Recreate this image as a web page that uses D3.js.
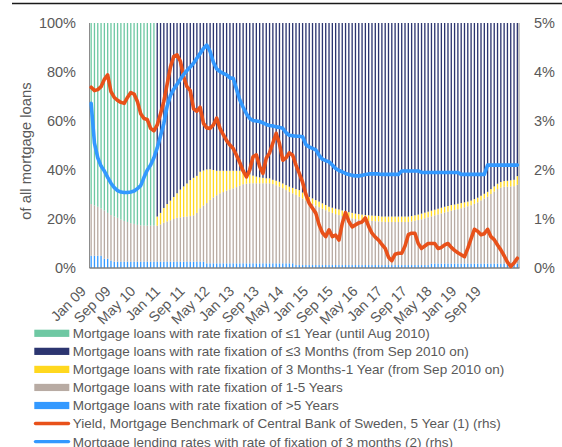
<!DOCTYPE html>
<html><head><meta charset="utf-8">
<script src="https://cdn.jsdelivr.net/npm/d3@7"></script>
<style>
html,body{margin:0;padding:0;background:#fff;}
svg{display:block;font-family:"Liberation Sans",Arial,sans-serif;}
</style></head>
<body><svg id="c" width="562" height="447"></svg>
<script>
// ---- data ----
const tickLabels = ["Jan 09","Sep 09","May 10","Jan 11","Sep 11","May 12","Jan 13","Sep 13","May 14","Jan 15","Sep 15","May 16","Jan 17","Sep 17","May 18","Jan 19","Sep 19"];
const leftTicks = [0,20,40,60,80,100];
const rightTicks = [0,1,2,3,4,5];

// >5 Years (Jan 2009 - Oct 2019)
const gt5 = [5.0,5.0,5.0,5.0,3.8,3.8,3.0,2.6,2.6,2.6, 2.6,2.6,2.6,2.6,2.6,2.6,2.6,2.6,2.6,2.6,
 2.6,2.6,2.6,2.6,2.6,2.6,2.6,2.6,2.6,2.6, 2.6,2.6,2.6,2.6,2.6,1.9,1.9,1.9,1.9,1.9,
 1.9,1.9,1.9,1.9,1.9,1.9,1.9,1.9,1.9,1.9, 1.9,1.9,1.9,1.9,1.9,1.9,1.9,1.9,1.9,1.9,
 1.9,1.9,1.2,1.2,1.2,1.2,1.2,1.2,1.2,1.2, 1.2,1.2,1.2,1.2,1.2,1.2,1.2,1.2,1.2,1.2,
 1.2,1.2,1.2,1.2,1.2,1.2,1.2,1.2,1.2,1.2, 1.2,1.2,1.2,1.2,1.2,1.2,1.2,1.2,1.2,1.2,
 1.2,1.2,1.2,1.8,1.8,1.8,1.8,1.8,1.8,1.8, 1.8,1.8,1.8,1.8,1.8,1.8,1.8,1.8,1.8,1.8,
 1.8,1.8,1.8,1.8,1.8,1.8,1.8,1.8,1.8,1.8];
// 1-5 Years
const y1to5 = [21.1,20.5,20.0,19.3,19.7,18.7,18.6,18.4,17.9,17.2, 16.6,16.2,15.7,15.4,15.0,14.8,14.7,14.7,14.7,14.7,
 14.7,15.2,15.9,16.4,16.9,17.4,17.9,18.1,18.3,18.4, 18.6,18.9,19.9,21.8,22.9,24.6,25.9,26.9,27.8,28.6,
 29.1,29.7,30.2,30.6,31.1,31.7,32.3,32.5,32.7,32.7, 32.7,32.7,32.7,32.7,32.7,32.4,31.9,31.3,30.7,29.9,
 29.2,28.6,28.6,27.9,27.2,26.4,25.7,25.0,24.3,23.6, 23.0,22.4,21.8,21.3,20.8,20.4,20.0,19.7,19.4,19.1,
 18.8,18.6,18.4,18.2,18.1,18.0,17.9,17.8,17.7,17.6, 17.6,17.6,17.6,17.6,17.6,17.6,17.6,17.8,18.1,18.4,
 18.7,19.1,19.5,19.3,19.7,20.1,20.5,20.9,21.2,21.6, 21.9,22.2,22.6,23.0,23.4,23.8,24.4,25.0,25.8,26.6,
 27.3,28.4,29.4,30.4,31.0,31.4,31.4,31.5,31.6,32.2];
// <=1 Year (Jan 2009 - Aug 2010)
const le1y = [73.9,74.5,75.0,75.7,76.5,77.5,78.4,79.0,79.5,80.2, 80.8,81.2,81.7,82.0,82.4,82.6,82.7,82.7,82.7,82.7];
// 3 Months - 1 Year (Sep 2010 - Oct 2019)
const m3to1y = [3.7,4.7,6.0,7.1,8.0,9.0,10.0,11.3,12.4,13.5, 14.7,15.3,15.1,14.9,14.3,13.7,12.5,11.2,10.0,9.2,
 8.7,8.1,7.6,7.2,6.7,6.1,5.5,4.2,3.6,3.1, 2.7,2.4,2.2,2.0,2.0,1.7,1.8,2.0,1.9,2.0,
 2.1,2.2,2.4,2.7,2.4,2.2,2.1,2.2,2.2,2.3, 2.2,2.1,2.0,2.1,2.2,2.3,2.3,2.2,2.2,2.2,
 2.2,2.2,2.2,2.2,2.2,2.2,2.2,2.2,2.1,2.2, 2.2,2.2,2.2,2.2,2.2,2.2,2.2,2.2,2.2,2.2,
 2.3,2.3,2.3,2.3,2.3,2.3,2.3,2.3,2.3,2.3, 2.2,2.2,2.1,2.0,1.9,1.9,1.9,1.9,1.9,1.9,
 2.0,2.0,2.1,2.2,2.3,2.3,2.4,2.5,2.6,3.5];
// <=3 Months (Sep 2010 - Oct 2019)
const le3m = [79.0,77.5,75.5,73.9,72.5,71.0,69.5,68.0,66.7,65.5, 64.1,63.2,62.4,60.7,60.2,59.8,59.7,60.0,60.3,60.3,
 60.3,60.3,60.3,60.3,60.3,60.3,60.3,61.4,61.8,62.3, 62.7,63.0,63.2,63.4,63.4,64.0,64.4,64.8,65.5,66.2,
 66.8,67.3,67.8,68.2,69.2,70.2,71.0,71.6,72.3,72.9, 73.6,74.3,75.0,75.4,75.8,76.1,76.5,76.9,77.2,77.5,
 77.8,78.0,78.2,78.4,78.5,78.6,78.7,78.8,79.0,79.0, 79.0,79.0,79.0,79.0,79.0,79.0,79.0,78.8,78.5,78.2,
 77.8,77.4,77.0,76.6,76.2,75.8,75.4,75.0,74.7,74.3, 74.1,73.8,73.5,73.2,72.9,72.5,71.9,71.3,70.5,69.7,
 68.9,67.8,66.7,65.6,64.9,64.5,64.4,64.2,64.0,62.5];
// Yield, mortgage benchmark 5Y (rhs, %)
const yield5y = [3.69,3.62,3.64,3.70,3.85,3.94,3.60,3.48,3.42,3.38, 3.36,3.48,3.58,3.55,3.40,3.15,3.05,3.03,2.85,2.80,
 2.92,3.15,3.40,3.75,4.10,4.32,4.35,4.22,3.90,3.70, 3.62,3.25,3.20,3.28,2.95,2.86,2.85,2.92,3.06,2.85,
 2.72,2.60,2.51,2.44,2.30,2.15,1.98,1.86,2.00,2.27, 2.31,2.07,1.93,2.24,2.35,2.55,2.75,2.54,2.20,2.25,
 2.35,2.30,2.10,1.93,1.75,1.50,1.32,1.22,1.12,0.88, 0.72,0.64,0.78,0.64,0.67,0.57,0.91,1.13,0.95,0.84,
 0.88,0.92,0.94,1.02,0.85,0.71,0.63,0.57,0.48,0.40, 0.22,0.15,0.28,0.30,0.30,0.45,0.68,0.71,0.71,0.50,
 0.40,0.45,0.50,0.50,0.50,0.40,0.42,0.47,0.50,0.42, 0.36,0.31,0.27,0.23,0.40,0.60,0.79,0.75,0.68,0.70,
 0.79,0.64,0.58,0.47,0.37,0.25,0.12,0.03,0.10,0.20];
// Mortgage lending rate, 3 months fixation (rhs, %)
const rate3m = [3.36,2.55,2.25,2.08,1.98,1.85,1.73,1.64,1.58,1.55, 1.54,1.54,1.55,1.57,1.62,1.68,1.85,2.00,2.10,2.25,
 2.45,2.70,2.95,3.30,3.52,3.65,3.75,3.85,3.95,4.03, 4.10,4.18,4.28,4.38,4.48,4.55,4.42,4.20,4.06,4.01,
 3.97,3.94,3.88,3.87,3.65,3.43,3.28,3.15,3.05,3.01, 3.00,2.99,2.96,2.93,2.91,2.90,2.88,2.87,2.85,2.76,
 2.71,2.70,2.69,2.69,2.68,2.52,2.47,2.44,2.41,2.30, 2.22,2.19,2.17,2.10,2.03,1.99,1.96,1.93,1.91,1.89,
 1.88,1.88,1.89,1.91,1.92,1.92,1.92,1.92,1.91,1.91, 1.91,1.91,1.91,1.91,1.98,1.98,1.98,1.98,1.98,1.98,
 1.95,1.95,1.95,1.95,1.95,1.95,1.95,1.95,1.95,1.95, 1.95,1.95,1.91,1.91,1.91,1.91,1.91,1.91,1.91,1.91,
 2.10,2.10,2.10,2.10,2.10,2.10,2.10,2.10,2.10,2.10];

const months = d3.timeMonth.range(new Date(2009,0,1), new Date(2019,10,1));
const fmt = d3.timeFormat("%b %y");
const rows = months.map((m,i) => ({
  key: fmt(m),
  gt5: gt5[i],
  y1to5: y1to5[i],
  m3to1y: i >= 20 ? m3to1y[i-20] : 0,
  le1y: i < 20 ? le1y[i] : 0,
  le3m: i >= 20 ? le3m[i-20] : 0
}));

const colors = {gt5:"#3399FF", y1to5:"#B8ABA3", m3to1y:"#FFD81F", le1y:"#6EC8A3", le3m:"#2C3570"};
const textCol = "#595959";

const svg = d3.select("#c");
const L = 89.5, R = 519, T = 23, B = 268;

const x = d3.scaleBand().domain(rows.map(d=>d.key)).range([L,R]).paddingInner(0.6).paddingOuter(0.3);
const y = d3.scaleLinear().domain([0,100]).range([B,T]);
const yR = d3.scaleLinear().domain([0,5]).range([B,T]);
const xLab = d3.scalePoint().domain(tickLabels).range([87, 482]);

// top rule
svg.append("line").attr("x1",12).attr("x2",562).attr("y1",3.5).attr("y2",3.5)
  .attr("stroke","#1a1a1a").attr("stroke-width",1.3);

// stacked bars
const keys = ["gt5","y1to5","m3to1y","le1y","le3m"];
const series = d3.stack().keys(keys)(rows);
svg.append("g").selectAll("g").data(series).join("g")
  .attr("fill", s => colors[s.key])
  .selectAll("rect").data(s => s.filter(d => d[1]-d[0] > 0)).join("rect")
  .attr("x", d => x(d.data.key))
  .attr("width", x.bandwidth())
  .attr("y", d => y(d[1]))
  .attr("height", d => y(d[0]) - y(d[1]));

// axis lines
svg.append("line").attr("x1",L).attr("x2",L).attr("y1",T).attr("y2",B).attr("stroke","#8c8c8c").attr("stroke-width",1);
svg.append("line").attr("x1",R).attr("x2",R).attr("y1",T).attr("y2",B).attr("stroke","#8c8c8c").attr("stroke-width",1);
svg.append("line").attr("x1",L).attr("x2",R+0.5).attr("y1",B).attr("y2",B).attr("stroke","#7f7f7f").attr("stroke-width",1.6);

// lines
const cx = (d,i) => x(rows[i].key) + x.bandwidth()/2;
const lineGen = d3.line().x((d,i)=>cx(d,i)).y(d=>yR(d));
svg.append("path").datum(yield5y).attr("d", lineGen)
  .attr("fill","none").attr("stroke","#E8511A").attr("stroke-width",3.6).attr("stroke-linejoin","round").attr("stroke-linecap","round");
svg.append("path").datum(rate3m).attr("d", lineGen)
  .attr("fill","none").attr("stroke","#3399FF").attr("stroke-width",3.6).attr("stroke-linejoin","round").attr("stroke-linecap","round");

// left axis
const ga = svg.append("g").attr("transform",`translate(${L},0)`)
  .call(d3.axisLeft(y).tickValues(leftTicks).tickFormat(d=>d+"%").tickSize(0).tickPadding(13.5));
ga.select(".domain").remove();
ga.selectAll("text").attr("fill",textCol).attr("font-size",14.5).attr("font-family","Liberation Sans, Arial, sans-serif");

// right axis
const gr = svg.append("g").attr("transform",`translate(${R},0)`)
  .call(d3.axisRight(yR).tickValues(rightTicks).tickFormat(d=>d+"%").tickSize(0).tickPadding(15));
gr.select(".domain").remove();
gr.selectAll("text").attr("fill",textCol).attr("font-size",14.5).attr("font-family","Liberation Sans, Arial, sans-serif");

// x labels
svg.append("g").selectAll("text").data(tickLabels).join("text")
  .attr("transform", d => `translate(${xLab(d)},292) rotate(-45)`)
  .attr("text-anchor","end")
  .attr("fill",textCol).attr("font-size",14.3)
  .text(d=>d);

// y title
svg.append("text").attr("transform","translate(31,151) rotate(-90)")
  .attr("text-anchor","middle").attr("fill",textCol).attr("font-size",14.8)
  .text("of all mortgage loans");

// legend
const legend = [
  {label:"Mortgage loans with rate fixation of ≤1 Year  (until Aug 2010)", color:colors.le1y, type:"bar"},
  {label:"Mortgage loans with rate fixation of ≤3 Months (from Sep 2010 on)", color:colors.le3m, type:"bar"},
  {label:"Mortgage loans with rate fixation of 3 Months-1 Year (from Sep 2010 on)", color:colors.m3to1y, type:"bar"},
  {label:"Mortgage loans with rate fixation of 1-5 Years", color:colors.y1to5, type:"bar"},
  {label:"Mortgage loans with rate fixation of >5 Years", color:colors.gt5, type:"bar"},
  {label:"Yield, Mortgage Benchmark of Central Bank of Sweden, 5 Year (1) (rhs)", color:"#E8511A", type:"line"},
  {label:"Mortgage lending rates with rate of fixation of 3 months (2) (rhs)", color:"#3399FF", type:"line"}
];
const lg = svg.append("g").selectAll("g").data(legend).join("g")
  .attr("transform",(d,i)=>`translate(0,${333.3 + i*18.05})`);
lg.filter(d=>d.type==="bar").append("rect").attr("x",34.3).attr("y",-3.6).attr("width",35).attr("height",7.2).attr("fill",d=>d.color);
lg.filter(d=>d.type==="line").append("line").attr("x1",35.5).attr("x2",68.5).attr("y1",0).attr("y2",0)
  .attr("stroke",d=>d.color).attr("stroke-width",3.4).attr("stroke-linecap","round");
lg.append("text").attr("x",72.7).attr("y",4.9).attr("fill",textCol).attr("font-size",13.5).text(d=>d.label);
</script></body></html>
